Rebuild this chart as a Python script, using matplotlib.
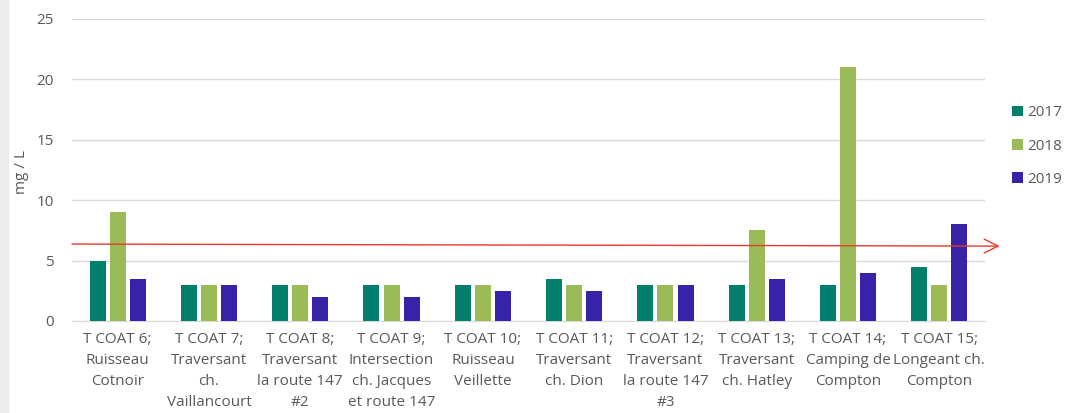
import matplotlib.pyplot as plt
import numpy as np
from matplotlib.patches import Rectangle

plt.rcParams['font.family'] = ['Open Sans', 'DejaVu Sans']

# data
categories = [
    "T COAT 6;\nRuisseau\nCotnoir",
    "T COAT 7;\nTraversant\nch.\nVaillancourt",
    "T COAT 8;\nTraversant\nla route 147\n#2",
    "T COAT 9;\nIntersection\nch. Jacques\net route 147",
    "T COAT 10;\nRuisseau\nVeillette",
    "T COAT 11;\nTraversant\nch. Dion",
    "T COAT 12;\nTraversant\nla route 147\n#3",
    "T COAT 13;\nTraversant\nch. Hatley",
    "T COAT 14;\nCamping de\nCompton",
    "T COAT 15;\nLongeant ch.\nCompton",
]
v2017 = [5, 3, 3, 3, 3, 3.5, 3, 3, 3, 4.5]
v2018 = [9, 3, 3, 3, 3, 3, 3, 7.5, 21, 3]
v2019 = [3.5, 3, 2, 2, 2.5, 2.5, 3, 3.5, 4, 8]
years = ["2017", "2018", "2019"]
colors = ["#017F6C", "#9BBB59", "#3623A8"]
# red reference line (start / end level)
ref_start, ref_end = 6.37, 6.2

fig = plt.figure(figsize=(10.68, 4.13), dpi=100)
fig.patches.append(Rectangle((0, 0), 8 / 1068, 1, transform=fig.transFigure,
                             color="#ECECEC", zorder=0))
ax = fig.add_axes([72 / 1068, 1 - 321 / 413, 913 / 1068, 302 / 413])

x = np.arange(len(categories))
w = 0.175
for i, (vals, yr, c) in enumerate(zip([v2017, v2018, v2019], years, colors)):
    ax.bar(x + (i - 1) * 0.22, vals, w, color=c, label=yr, zorder=3)

ax.set_xlim(-0.5, len(categories) - 0.5)
ax.set_ylim(0, 25)
ax.set_yticks(range(0, 26, 5))
ax.yaxis.grid(True, color="#D9D9D9", linewidth=1, zorder=0)
ax.set_axisbelow(True)
for s in ["top", "right", "left"]:
    ax.spines[s].set_visible(False)
ax.spines["bottom"].set_color("#D9D9D9")
ax.tick_params(axis="both", length=0, colors="#595959", labelsize=11)
ax.tick_params(axis="y", pad=13)
ax.tick_params(axis="x", pad=8)
ax.set_xticks(x)
ax.set_xticklabels(categories, linespacing=1.55)
fig.text(22 / 1068, 1 - 172 / 413, "mg / L", rotation=90, ha="center",
         va="center", color="#595959", fontsize=11)

ax.annotate("", xy=(9.66, ref_end), xytext=(-0.5, ref_start),
            arrowprops=dict(arrowstyle="->,head_length=1.0,head_width=0.5",
                            color="#E8382F", lw=1, shrinkA=0, shrinkB=0),
            annotation_clip=False, zorder=4)

ax.legend(loc="upper left", bbox_to_anchor=(1.015, 0.76), frameon=False,
          fontsize=11, handlelength=0.7, handleheight=0.7, handletextpad=0.3,
          labelspacing=1.2, labelcolor="#595959")

fig.savefig("out.png", dpi=100)
